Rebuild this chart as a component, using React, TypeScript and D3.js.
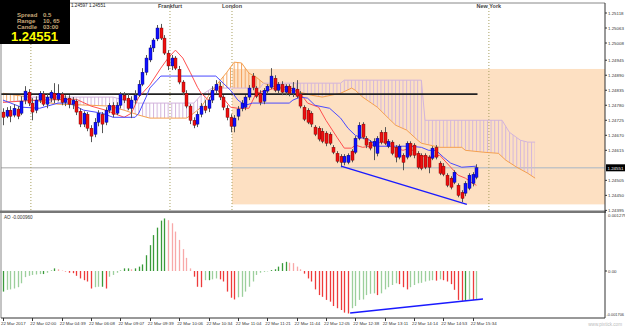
import * as d3 from "d3";
import React from "react";

// ---- price bars (one per bar index) ----
const opens = [1.24755,1.24740,1.24762,1.24744,1.24766,1.24751,1.24799,1.24828,1.24788,1.24762,1.24799,1.24821,1.24784,1.24806,1.24824,1.24802,1.24821,1.24791,1.24806,1.24784,1.24795,1.24758,1.24711,1.24747,1.24696,1.24674,1.24718,1.24747,1.24718,1.24762,1.24780,1.24751,1.24780,1.24817,1.24806,1.24769,1.24799,1.24817,1.24857,1.24901,1.24946,1.24990,1.25023,1.25063,1.25026,1.24971,1.24924,1.24953,1.24912,1.24865,1.24824,1.24777,1.24725,1.24711,1.24747,1.24777,1.24769,1.24799,1.24835,1.24850,1.24810,1.24769,1.24736,1.24703,1.24740,1.24769,1.24773,1.24810,1.24887,1.24843,1.24824,1.24795,1.24832,1.24846,1.24879,1.24835,1.24857,1.24828,1.24850,1.24824,1.24839,1.24821,1.24773,1.24762,1.24751,1.24700,1.24696,1.24685,1.24678,1.24674,1.24626,1.24604,1.24593,1.24571,1.24571,1.24612,1.24608,1.24659,1.24711,1.24659,1.24645,1.24630,1.24604,1.24681,1.24681,1.24630,1.24645,1.24626,1.24590,1.24597,1.24590,1.24641,1.24634,1.24604,1.24597,1.24597,1.24590,1.24586,1.24626,1.24568,1.24557,1.24524,1.24513,1.24498,1.24487,1.24461,1.24458,1.24476,1.24494,1.24516];
const highs = [1.24769,1.24773,1.24777,1.24784,1.24777,1.24813,1.24850,1.24839,1.24806,1.24813,1.24832,1.24832,1.24824,1.24835,1.24861,1.24857,1.24828,1.24817,1.24817,1.24810,1.24802,1.24769,1.24758,1.24755,1.24707,1.24733,1.24762,1.24755,1.24773,1.24788,1.24791,1.24791,1.24828,1.24828,1.24824,1.24813,1.24835,1.24872,1.24916,1.24964,1.25001,1.25026,1.25074,1.25078,1.25037,1.24982,1.24964,1.24960,1.24924,1.24872,1.24835,1.24784,1.24736,1.24758,1.24788,1.24799,1.24810,1.24850,1.24872,1.24865,1.24817,1.24780,1.24747,1.24744,1.24777,1.24799,1.24817,1.24854,1.24898,1.24850,1.24835,1.24843,1.24857,1.24916,1.24890,1.24865,1.24868,1.24857,1.24857,1.24865,1.24872,1.24832,1.24780,1.24769,1.24758,1.24707,1.24703,1.24696,1.24685,1.24681,1.24634,1.24612,1.24601,1.24601,1.24604,1.24619,1.24667,1.24718,1.24718,1.24667,1.24652,1.24659,1.24667,1.24689,1.24700,1.24656,1.24652,1.24634,1.24637,1.24604,1.24648,1.24648,1.24641,1.24612,1.24604,1.24604,1.24597,1.24630,1.24634,1.24575,1.24568,1.24531,1.24520,1.24542,1.24494,1.24469,1.24502,1.24531,1.24535,1.24564];
const lows = [1.24707,1.24733,1.24718,1.24736,1.24729,1.24744,1.24784,1.24777,1.24725,1.24751,1.24788,1.24777,1.24769,1.24791,1.24788,1.24795,1.24780,1.24777,1.24769,1.24766,1.24744,1.24700,1.24700,1.24685,1.24645,1.24663,1.24703,1.24678,1.24707,1.24751,1.24736,1.24744,1.24769,1.24788,1.24762,1.24733,1.24784,1.24810,1.24850,1.24890,1.24938,1.24975,1.25015,1.25019,1.24964,1.24909,1.24909,1.24909,1.24857,1.24817,1.24769,1.24711,1.24696,1.24700,1.24736,1.24751,1.24755,1.24788,1.24821,1.24799,1.24762,1.24725,1.24681,1.24681,1.24725,1.24758,1.24762,1.24799,1.24835,1.24806,1.24780,1.24784,1.24821,1.24839,1.24828,1.24824,1.24817,1.24817,1.24813,1.24810,1.24806,1.24769,1.24722,1.24711,1.24700,1.24667,1.24648,1.24641,1.24630,1.24634,1.24601,1.24568,1.24553,1.24560,1.24564,1.24571,1.24601,1.24652,1.24656,1.24623,1.24615,1.24579,1.24593,1.24637,1.24634,1.24623,1.24597,1.24571,1.24582,1.24542,1.24582,1.24590,1.24586,1.24546,1.24542,1.24546,1.24531,1.24579,1.24582,1.24524,1.24520,1.24480,1.24472,1.24491,1.24443,1.24425,1.24447,1.24469,1.24483,1.24509];
const closes = [1.24736,1.24762,1.24740,1.24769,1.24740,1.24795,1.24832,1.24788,1.24755,1.24799,1.24824,1.24784,1.24810,1.24828,1.24802,1.24824,1.24791,1.24806,1.24784,1.24799,1.24755,1.24711,1.24751,1.24696,1.24667,1.24718,1.24751,1.24711,1.24762,1.24780,1.24747,1.24780,1.24821,1.24799,1.24769,1.24799,1.24817,1.24857,1.24901,1.24953,1.24990,1.25019,1.25063,1.25026,1.24971,1.24924,1.24953,1.24916,1.24865,1.24828,1.24777,1.24725,1.24707,1.24747,1.24777,1.24762,1.24799,1.24835,1.24857,1.24810,1.24773,1.24736,1.24703,1.24733,1.24766,1.24788,1.24810,1.24843,1.24846,1.24813,1.24791,1.24835,1.24850,1.24887,1.24835,1.24857,1.24828,1.24850,1.24824,1.24843,1.24813,1.24777,1.24729,1.24718,1.24711,1.24674,1.24656,1.24648,1.24641,1.24641,1.24608,1.24575,1.24571,1.24593,1.24597,1.24579,1.24659,1.24707,1.24663,1.24634,1.24623,1.24648,1.24659,1.24645,1.24641,1.24648,1.24604,1.24590,1.24630,1.24571,1.24641,1.24597,1.24597,1.24553,1.24549,1.24553,1.24553,1.24623,1.24590,1.24531,1.24527,1.24487,1.24480,1.24535,1.24450,1.24439,1.24494,1.24524,1.24527,1.24551];

// ---- Awesome Oscillator ----
const aoValues = [-0.00047,-0.00043,-0.00042,-0.00040,-0.00037,-0.00028,-0.00014,-0.00011,-0.00009,-0.00008,-0.00007,-0.00007,-0.00004,0.00002,0.00006,0.00004,0.00001,-0.00001,-0.00004,-0.00005,-0.00011,-0.00017,-0.00021,-0.00024,-0.00040,-0.00037,-0.00036,-0.00036,-0.00040,-0.00013,-0.00009,-0.00004,0.00002,0.00006,0.00006,0.00004,0.00006,0.00010,0.00015,0.00036,0.00059,0.00082,0.00099,0.00115,0.00120,0.00116,0.00109,0.00090,0.00071,0.00050,0.00030,0.00006,-0.00013,-0.00036,-0.00037,-0.00021,-0.00021,-0.00019,-0.00017,-0.00019,-0.00024,-0.00047,-0.00061,-0.00065,-0.00060,-0.00059,-0.00047,-0.00036,-0.00024,-0.00009,-0.00004,-0.00002,-0.00001,0.00002,0.00004,0.00010,0.00018,0.00021,0.00019,0.00018,0.00010,0.00004,-0.00006,-0.00017,-0.00024,-0.00042,-0.00055,-0.00059,-0.00066,-0.00070,-0.00080,-0.00085,-0.00089,-0.00095,-0.00097,-0.00085,-0.00080,-0.00066,-0.00065,-0.00055,-0.00052,-0.00051,-0.00055,-0.00051,-0.00042,-0.00037,-0.00032,-0.00028,-0.00030,-0.00037,-0.00042,-0.00037,-0.00032,-0.00028,-0.00027,-0.00024,-0.00022,-0.00021,-0.00022,-0.00019,-0.00021,-0.00024,-0.00030,-0.00043,-0.00066,-0.00068,-0.00068,-0.00065,-0.00066,-0.00065];

// ---- Ichimoku lines, [bar index, price] vertices ----
const tenkan: [number, number][] = [[0,1.24791],[10,1.24799],[20,1.24802],[24,1.24777],[28,1.24762],[33,1.24736],[35,1.24751],[37,1.24810],[40,1.24854],[43,1.24916],[45,1.24953],[47,1.24982],[49,1.24953],[51,1.24901],[53,1.24846],[54,1.24824],[56,1.24799],[58,1.24846],[60,1.24806],[62,1.24773],[64,1.24769],[67,1.24769],[69,1.24824],[72,1.24835],[75,1.24846],[78,1.24846],[81,1.24824],[83,1.24788],[86,1.24773],[88,1.24725],[91,1.24663],[93,1.24623],[95,1.24623],[96,1.24634],[98,1.24626],[100,1.24630],[103,1.24645],[105,1.24645],[107,1.24623],[109,1.24615],[111,1.24623],[113,1.24597],[116,1.24590],[119,1.24597],[122,1.24553],[124,1.24524],[126,1.24513],[128,1.24494],[129,1.24487]];
const kijun: [number, number][] = [[0,1.24799],[5,1.24773],[10,1.24769],[15,1.24788],[18,1.24788],[22,1.24762],[27,1.24751],[30,1.24736],[36,1.24736],[37,1.24751],[39,1.24810],[40,1.24843],[42,1.24872],[43,1.24887],[58,1.24887],[60,1.24861],[62,1.24835],[64,1.24799],[66,1.24780],[68,1.24788],[78,1.24788],[79,1.24799],[81,1.24810],[83,1.24806],[85,1.24780],[89,1.24769],[92,1.24733],[94,1.24696],[96,1.24670],[98,1.24659],[100,1.24652],[102,1.24630],[111,1.24630],[114,1.24626],[116,1.24615],[118,1.24615],[120,1.24590],[122,1.24568],[125,1.24553],[129,1.24557]];
const spanA: [number, number][] = [[0,1.24824],[7,1.24810],[8,1.24799],[15,1.24784],[24,1.24780],[29,1.24777],[33,1.24762],[37,1.24744],[40,1.24733],[50,1.24733],[52,1.24751],[54,1.24773],[57,1.24835],[61,1.24901],[63,1.24938],[65,1.24935],[67,1.24898],[69,1.24883],[71,1.24861],[75,1.24843],[81,1.24828],[84,1.24817],[87,1.24810],[92,1.24824],[95,1.24843],[96,1.24835],[98,1.24810],[102,1.24773],[105,1.24733],[107,1.24707],[110,1.24689],[113,1.24652],[114,1.24641],[119,1.24626],[125,1.24626],[126,1.24615],[131,1.24608],[135,1.24604],[137,1.24579],[140,1.24553],[143,1.24531],[145,1.24513]];
const spanB: [number, number][] = [[0,1.24791],[7,1.24799],[8,1.24810],[30,1.24810],[33,1.24799],[37,1.24788],[52,1.24788],[54,1.24817],[57,1.24843],[70,1.24843],[71,1.24861],[92,1.24861],[93,1.24872],[114,1.24872],[115,1.24725],[136,1.24725],[138,1.24681],[141,1.24652],[143,1.24645],[145,1.24645]];

// ---- objects drawn on the chart ----
const trendMain: [number, number][] = [[92.1,1.24557],[126.4,1.24417]];
const trendAO: [number, number][] = [[94.6,-0.00096],[130.8,-0.00064]];
const zoneTop = 1.24913;
const zoneBottom = 1.24417;
const levelPrice = 1.24821;
const lastPrice = 1.24551;

// ---- axes / labels ----
const priceTicks = [1.25118,1.25063,1.25008,1.24945,1.24890,1.24835,1.24780,1.24725,1.24670,1.24615,1.24505,1.24450,1.24395];
const aoLabels = ["0.001279", "0.00", "-0.001706"];
const timeLabels = ["22 Mar 2017","22 Mar 02:00","22 Mar 04:39","22 Mar 06:08","22 Mar 09:07","22 Mar 09:39","22 Mar 10:06","22 Mar 10:34","22 Mar 11:04","22 Mar 11:21","22 Mar 11:44","22 Mar 12:05","22 Mar 12:38","22 Mar 13:11","22 Mar 14:14","22 Mar 14:53","22 Mar 15:34"];
const sessionNames = ["", "Frankfurt", "London", "New York"];
const sessionAt = [7.6, 45.5, 62.4, 132.4];

const FONT = "Liberation Sans, Arial, sans-serif";

const App = () => {
  const x = d3.scaleLinear().domain([0, 129]).range([3, 476.4]);
  const y = d3.scaleLinear().domain([1.24403, 1.25118]).range([208.2, 13]);
  const ao = d3.scaleLinear().domain([-0.001, 0.001]).range([314.8, 227.2]);
  const step = x(1) - x(0);
  const axisX = 605;

  const pLine = d3.line<[number, number]>().x((d) => x(d[0])).y((d) => y(d[1]));
  const aoLine = d3.line<[number, number]>().x((d) => x(d[0])).y((d) => ao(d[1]));

  const first = spanB[0][0];
  const last = spanB[spanB.length - 1][0];
  const cloudPoly = pLine([...spanA, ...spanB.slice().reverse()]) + "Z";
  const aboveB = pLine([[first, 1.26], ...spanB, [last, 1.26]]) + "Z";
  const belowB = pLine([[first, 1.23], ...spanB, [last, 1.23]]) + "Z";

  return (
    <svg width={625} height={328} style={{ position: "fixed", left: 0, top: 0, background: "#fff" }} fontFamily={FONT}>
      <defs>
        <pattern id="hatchO" patternUnits="userSpaceOnUse" x={x(0) - 0.5} y={0} width={step} height={8}>
          <rect x={0} y={0} width={1} height={8} fill="#f4a460" />
        </pattern>
        <pattern id="hatchB" patternUnits="userSpaceOnUse" x={x(0) - 0.5} y={0} width={step} height={8}>
          <rect x={0} y={0} width={1} height={8} fill="#d2b4dc" />
        </pattern>
        <clipPath id="clipAbove"><path d={aboveB} /></clipPath>
        <clipPath id="clipBelow"><path d={belowB} /></clipPath>
        <clipPath id="mainArea"><rect x={1} y={3} width={axisX - 1} height={208} /></clipPath>
      </defs>

      <rect x={0} y={0} width={625} height={328} fill="#fff" />

      <g clipPath="url(#mainArea)">
        {/* zone rectangle */}
        <rect x={x(sessionAt[2])} y={y(zoneTop)} width={axisX - x(sessionAt[2])} height={y(zoneBottom) - y(zoneTop)} fill="#fde0c2" />

        {/* current price line */}
        <line x1={1} x2={axisX} y1={y(lastPrice)} y2={y(lastPrice)} stroke="#c4c4c4" strokeWidth={1.5} />

        {/* session lines */}
        {sessionAt.map((s, i) => (
          <line key={i} x1={x(s)} x2={x(s)} y1={8} y2={211} stroke="#a8a060" strokeWidth={1} strokeDasharray="1,2" />
        ))}

        {/* ichimoku cloud */}
        <path d={cloudPoly} fill="url(#hatchO)" clipPath="url(#clipAbove)" />
        <path d={cloudPoly} fill="url(#hatchB)" clipPath="url(#clipBelow)" />
        <path d={pLine(spanA)!} fill="none" stroke="#f4a050" strokeWidth={1} />
        <path d={pLine(spanB)!} fill="none" stroke="#d2b4dc" strokeWidth={1} />

        {/* horizontal level */}
        <line x1={1} x2={x(129.3)} y1={y(levelPrice)} y2={y(levelPrice)} stroke="#222" strokeWidth={1.6} />

        <path d={pLine(tenkan)!} fill="none" stroke="#ff5050" strokeWidth={1} />
        <path d={pLine(kijun)!} fill="none" stroke="#4a4aff" strokeWidth={1} />

        {/* candles */}
        {opens.map((o, i) => {
          const c = closes[i];
          const cx = Math.round(x(i));
          const up = c >= o;
          const top = y(Math.max(o, c));
          const h = Math.max(1, Math.abs(y(o) - y(c)));
          return (
            <g key={i}>
              <line x1={cx + 0.5} x2={cx + 0.5} y1={y(highs[i])} y2={y(lows[i])} stroke="#555" strokeWidth={1} />
              <rect x={cx - 1} y={top} width={3} height={h} fill={up ? "#1010ff" : "#ee1010"} stroke={up ? "#00006a" : "#6a0000"} strokeWidth={0.4} />
            </g>
          );
        })}

        <path d={pLine(trendMain)!} stroke="#1a1aff" strokeWidth={1.5} fill="none" />
      </g>

      {/* frame */}
      <line x1={1} x2={axisX} y1={3} y2={3} stroke="#888" strokeWidth={1} />
      <line x1={1} x2={1} y1={3} y2={318} stroke="#888" strokeWidth={1} />
      <rect x={0} y={210.5} width={axisX + 1} height={2.5} fill="#777" />
      <line x1={1} x2={axisX} y1={318} y2={318} stroke="#333" strokeWidth={1} />
      <line x1={axisX} x2={axisX} y1={3} y2={318} stroke="#333" strokeWidth={1} />

      {/* session names */}
      {sessionNames.map((n, i) => n ? (
        <text key={i} x={x(sessionAt[i])} y={8} fontSize={5.5} fontWeight="bold" fill="#444" textAnchor="middle">{n}</text>
      ) : null)}

      {/* price axis */}
      {priceTicks.map((p, i) => (
        <g key={i}>
          <line x1={axisX} x2={axisX + 2} y1={y(p)} y2={y(p)} stroke="#333" />
          <text x={axisX + 3} y={y(p) + 1.8} fontSize={4.4} fill="#333">{p.toFixed(5)}</text>
        </g>
      ))}
      <rect x={axisX + 1} y={y(lastPrice) - 3.5} width={19} height={7} fill="#000" />
      <text x={axisX + 2.5} y={y(lastPrice) + 1.8} fontSize={4.4} fill="#fff">{lastPrice.toFixed(5)}</text>

      {/* AO panel */}
      <text x={4} y={219} fontSize={4.6} fill="#333">AO -0.000960</text>
      {aoValues.map((v, i) => {
        const prev = i > 0 ? aoValues[i - 1] : v;
        const rising = v >= prev;
        const shrinking = Math.abs(v) < Math.abs(prev);
        const col = rising ? (shrinking ? "#9ccf9c" : "#3a9a3a") : (shrinking ? "#f8a8a8" : "#ee3b3b");
        const cx = Math.round(x(i)) + 0.5;
        return <line key={i} x1={cx} x2={cx} y1={ao(0)} y2={ao(v)} stroke={col} strokeWidth={1.3} />;
      })}
      <path d={aoLine(trendAO)!} stroke="#1a1aff" strokeWidth={1.5} fill="none" />
      <line x1={axisX} x2={axisX + 2} y1={ao(0)} y2={ao(0)} stroke="#333" />
      <text x={axisX + 3} y={217} fontSize={4.4} fill="#333">{aoLabels[0]}</text>
      <text x={axisX + 3} y={ao(0) + 1.8} fontSize={4.4} fill="#333">{aoLabels[1]}</text>
      <text x={axisX + 1.5} y={316} fontSize={3.9} fill="#333">{aoLabels[2]}</text>

      {/* time axis */}
      {timeLabels.map((t, k) => (
        <g key={k}>
          <line x1={Math.round(x(k * 8)) + 0.5} x2={Math.round(x(k * 8)) + 0.5} y1={318} y2={321} stroke="#333" />
          <text x={x(k * 8) - 2} y={325} fontSize={4.4} fill="#333">{t}</text>
        </g>
      ))}
      <text x={622} y={326} fontSize={4.6} fill="#bbb" textAnchor="end">www.pixtick.com</text>

      {/* header + info box */}
      <text x={71} y={7} fontSize={4.6} fill="#222">1.24597 1.24551</text>
      <rect x={0} y={0} width={70} height={44} fill="#000" />
      <g fontSize={6} fontWeight="bold" fill="#c8a878">
        <text x={17} y={17}>Spread</text><text x={43} y={17}>0.5</text>
        <text x={17} y={23}>Range</text><text x={43} y={23}>10, 65</text>
        <text x={17} y={29}>Candle</text><text x={43} y={29}>03:00</text>
      </g>
      <text x={11} y={41} fontSize={13} fontWeight="bold" fill="#ffff00">1.24551</text>
    </svg>
  );
};

export default App;
